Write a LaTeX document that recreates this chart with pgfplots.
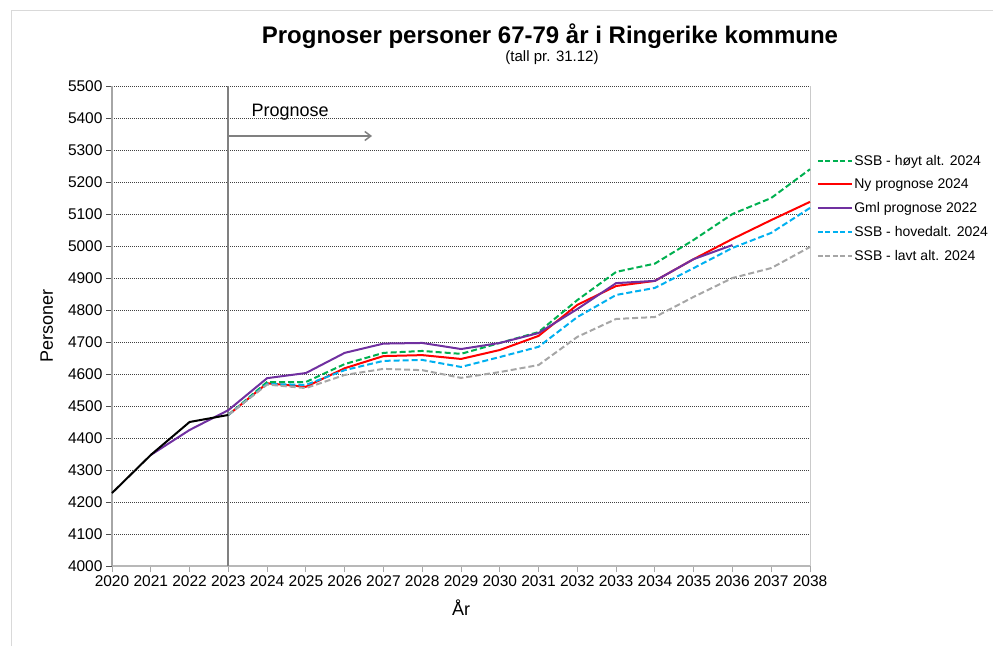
\documentclass[border=0pt]{standalone}
\usepackage{pgfplots}
\pgfplotsset{compat=1.18}
\usepackage{fontspec}
\setmainfont{Liberation Sans}
\usetikzlibrary{arrows.meta}
\definecolor{cgreen}{HTML}{00B050}
\definecolor{cred}{HTML}{FF0000}
\definecolor{cpurple}{HTML}{7030A0}
\definecolor{cblue}{HTML}{00B0F0}
\definecolor{cgray}{HTML}{A6A6A6}
\definecolor{axgray}{HTML}{A6A6A6}
\definecolor{frame}{HTML}{D9D9D9}
\begin{document}
\begin{tikzpicture}[x=1pt,y=1pt]
\useasboundingbox (0,0) rectangle (993,646);
\draw[frame,line width=1pt] (11,0) -- (11,635) -- (993,635);
\begin{axis}[
  at={(112pt,80pt)}, anchor=south west,
  scale only axis, width=698pt, height=480pt,
  xmin=2020, xmax=2038, ymin=4000, ymax=5500,
  xtick={2020,2021,...,2038}, ytick={4000,4100,...,5500},
  /pgf/number format/1000 sep={},
  /pgf/number format/assume math mode=true,
  ticklabel style={font=\fontsize{15.5}{18}\selectfont},
  axis x line*=bottom, axis y line*=left,
  x axis line style={axgray!80, line width=2.5pt, -},
  y axis line style={axgray, line width=1.5pt, -},
  tick align=outside, major tick length=6pt,
  xtick style={axgray, line width=1pt},
  ytick style={black!70, line width=0.8pt},
  ymajorgrids, major grid style={black!75, line width=0.9pt, dash pattern=on 1pt off 1pt},
  xlabel={År}, ylabel={Personer},
  xlabel style={font=\fontsize{18}{20}\selectfont, at={(axis description cs:0.5,0)}, anchor=north, yshift=-30pt},
  ylabel style={font=\fontsize{18}{20}\selectfont, yshift=8pt},
  clip=false,
  legend cell align=left,
  legend style={draw=none, fill=none, at={(axis description cs:1.0095,0.86)}, anchor=north west,
    font=\fontsize{14}{16}\selectfont, row sep=9.2pt, inner sep=0pt,
    nodes={inner sep=1.5pt}},
  legend image code/.code={\draw[#1] (0pt,0pt) -- (34pt,0pt);},
]
% 2023 divider
\draw[black!50, line width=2pt] (axis cs:2023,4000) -- (axis cs:2023,5500);
\draw[axgray!60, line width=1pt] (axis cs:2038,4000) -- (axis cs:2038,5500);
% red
\addplot[cred, line width=2pt, forget plot] coordinates {
(2023,4472)(2024,4571)(2025,4560)(2026,4618)(2027,4656)(2028,4659)(2029,4647)(2030,4675)(2031,4719)(2032,4816)(2033,4875)(2034,4891)(2035,4959)(2036,5022)(2037,5081)(2038,5138)};
% green
\addplot[cgreen, line width=2pt, dash pattern=on 6pt off 3pt, forget plot] coordinates {
(2023,4472)(2024,4575)(2025,4575)(2026,4631)(2027,4666)(2028,4672)(2029,4663)(2030,4697)(2031,4731)(2032,4831)(2033,4919)(2034,4945)(2035,5019)(2036,5100)(2037,5150)(2038,5240)};
% blue
\addplot[cblue, line width=2pt, dash pattern=on 6pt off 3pt, forget plot] coordinates {
(2023,4472)(2024,4569)(2025,4566)(2026,4612)(2027,4641)(2028,4644)(2029,4622)(2030,4653)(2031,4685)(2032,4778)(2033,4847)(2034,4869)(2035,4931)(2036,4994)(2037,5041)(2038,5119)};
% gray
\addplot[cgray, line width=2pt, dash pattern=on 6pt off 3pt, forget plot] coordinates {
(2023,4472)(2024,4567)(2025,4556)(2026,4597)(2027,4616)(2028,4612)(2029,4588)(2030,4606)(2031,4628)(2032,4716)(2033,4772)(2034,4778)(2035,4841)(2036,4900)(2037,4931)(2038,4997)};
% purple
\addplot[cpurple, line width=2pt, forget plot] coordinates {
(2021,4347)(2022,4425)(2023,4487)(2024,4587)(2025,4603)(2026,4666)(2027,4695)(2028,4697)(2029,4678)(2030,4697)(2031,4728)(2032,4803)(2033,4884)(2034,4891)(2035,4959)(2036,5003)};
% black historical
\addplot[black, line width=2pt, forget plot] coordinates {
(2020,4228)(2021,4347)(2022,4450)(2023,4472)};
\addlegendimage{cgreen, line width=2pt, dash pattern=on 5pt off 2.5pt}
\addlegendentry{SSB - høyt alt. 2024}
\addlegendimage{cred, line width=2pt}
\addlegendentry{Ny prognose 2024}
\addlegendimage{cpurple, line width=2pt}
\addlegendentry{Gml prognose 2022}
\addlegendimage{cblue, line width=2pt, dash pattern=on 5pt off 2.5pt}
\addlegendentry{SSB - hovedalt. 2024}
\addlegendimage{cgray, line width=2pt, dash pattern=on 5pt off 2.5pt}
\addlegendentry{SSB - lavt alt. 2024}
\end{axis}
\node[font=\bfseries\fontsize{24}{28}\selectfont] at (550,610) {Prognoser personer 67-79 år i Ringerike kommune};
\node[font=\fontsize{15}{18}\selectfont] at (552,588) {(tall pr. 31.12)};
\node[font=\fontsize{18}{20}\selectfont, anchor=west] at (248,534) {Prognose};
\draw[black!50, line width=1.5pt, -{Straight Barb[length=6pt,width=9pt]}] (229,510) -- (372,510);
\end{tikzpicture}
\end{document}
